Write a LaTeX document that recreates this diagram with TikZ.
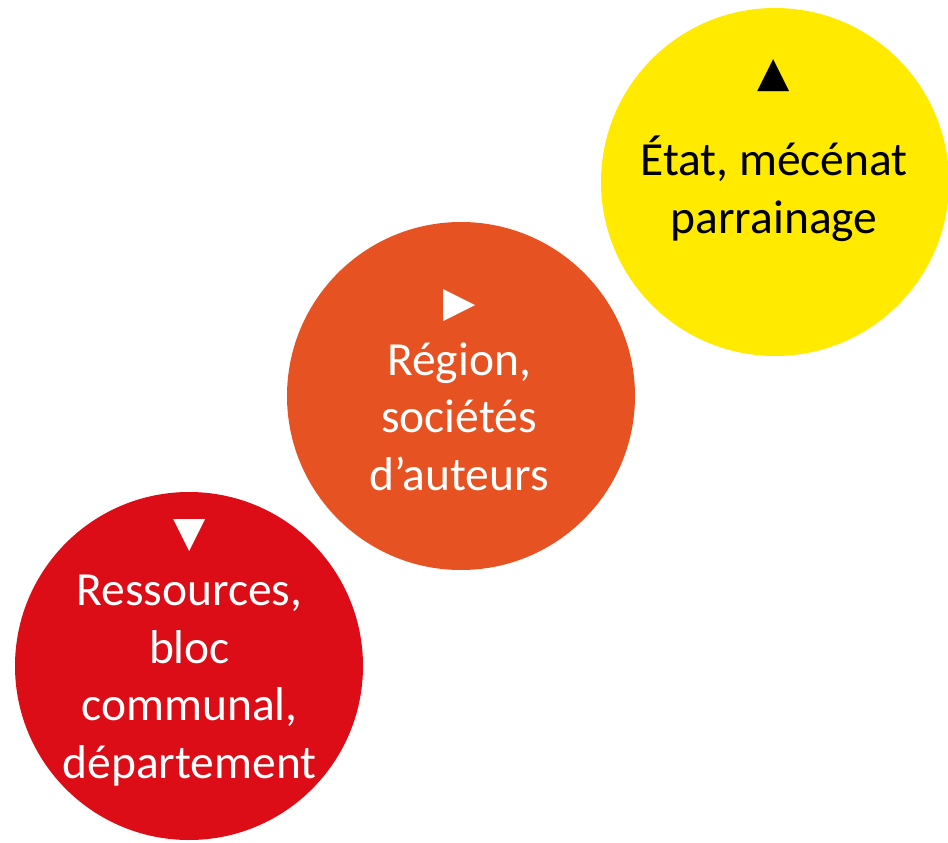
\documentclass[tikz,border=0pt]{standalone}
\usepackage{fontspec}
\setmainfont{Carlito}
\newfontfamily\symfont{DejaVu Sans}
\definecolor{cred}{RGB}{220,13,23}
\definecolor{corange}{RGB}{230,82,34}
\definecolor{cyellow}{RGB}{255,234,0}
\begin{document}
\begin{tikzpicture}[x=1pt,y=-1pt,
  disc/.style={circle,inner sep=0pt,minimum size=348pt,draw=none},
  lbl/.style={align=center,inner sep=0pt,anchor=base,font=\fontsize{47.5}{57.5}\selectfont},
  sym/.style={inner sep=0pt,anchor=base,font=\symfont\fontsize{42}{42}\selectfont}]
\useasboundingbox (0,0) rectangle (948,843);
\node[disc,fill=cyellow] (y) at (775,182) {};
\node[disc,fill=corange] (o) at (461,396) {};
\node[disc,fill=cred] (r) at (189,666) {};
\node[sym,text=black] (ys) at (773.5,86) {▲};
\node[sym,text=white] (os) at (459.5,316) {▶};
\node[sym,text=white] (rs) at (189.5,546) {▼};
\node[lbl,text=black] (yt) at (774,233) {État, mécénat\\parrainage};
\node[lbl,text=white] (ot) at (459,490) {Région,\\sociétés\\d’auteurs};
\node[lbl,text=white] (rt) at (189.5,778) {Ressources,\\bloc\\communal,\\département};
\end{tikzpicture}
\end{document}
